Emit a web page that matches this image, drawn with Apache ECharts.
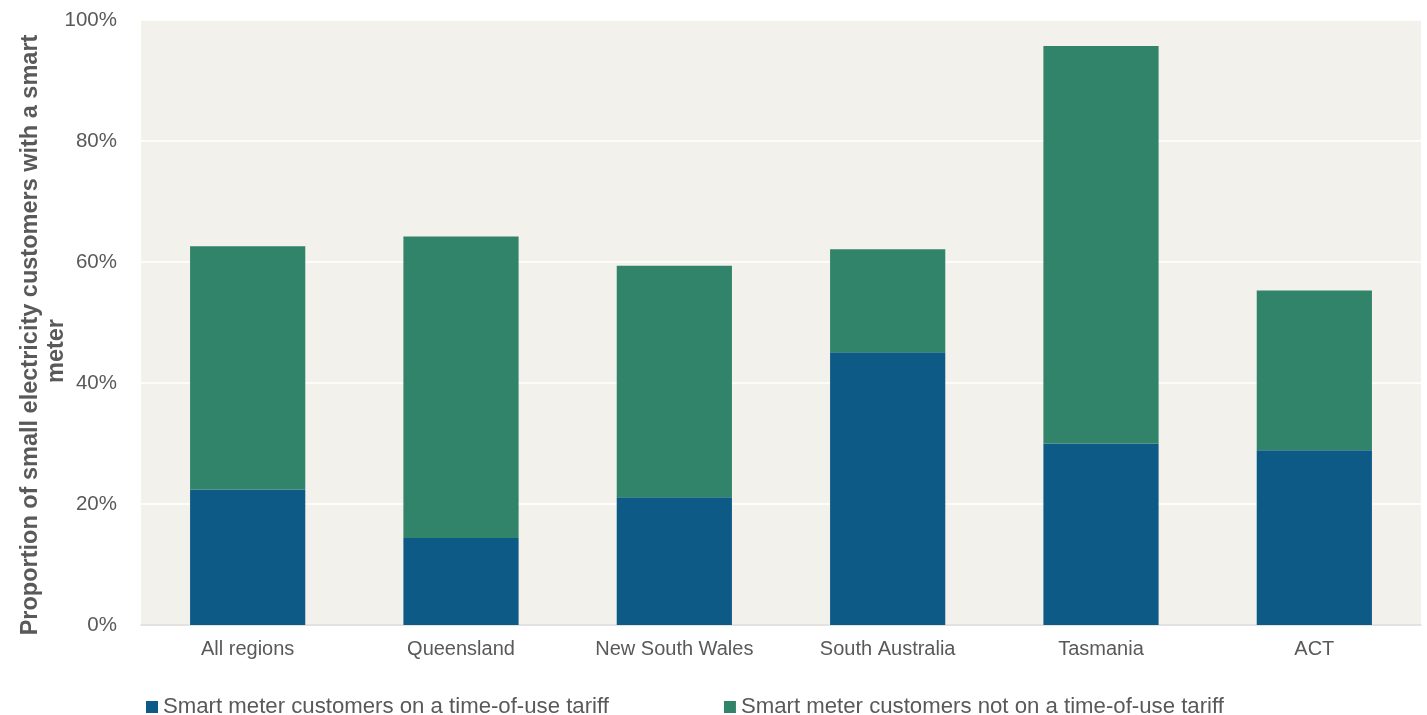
<!DOCTYPE html>
<html>
<head>
<meta charset="utf-8">
<script src="https://cdn.jsdelivr.net/npm/echarts@6/dist/echarts.min.js"></script>
<style>
  html, body { margin: 0; padding: 0; background: #ffffff; }
  #chart { width: 1427px; height: 715px; }
</style>
</head>
<body>
<div id="chart"></div>
<script>
// Smart meter uptake by region (% of small electricity customers)
const regions = ['All regions', 'Queensland', 'New South Wales', 'South Australia', 'Tasmania', 'ACT'];
const onTouTariff = [22.4, 14.4, 21.1, 45.1, 30.0, 28.9];
const notOnTouTariff = [40.2, 49.8, 38.3, 17.0, 65.7, 26.4];
const seriesNames = [
  'Smart meter customers on a time-of-use tariff',
  'Smart meter customers not on a time-of-use tariff'
];
const yAxisTitleLines = ['Proportion of small electricity customers with a smart', 'meter'];
const yTicks = { min: 0, max: 100, interval: 20 };

const textGrey = '#595959';
const fontFamily = '"Liberation Sans", Arial, sans-serif';

// rotated y-axis title, one text element per line
function titleLine(text, x, y) {
  return {
    type: 'text',
    x: x, y: y,
    rotation: Math.PI / 2,
    style: {
      text: text,
      fill: textGrey,
      font: 'bold 23.5px ' + fontFamily,
      align: 'center',
      verticalAlign: 'middle'
    }
  };
}

const chart = echarts.init(document.getElementById('chart'));
chart.setOption({
  animation: false,
  textStyle: { fontFamily: fontFamily },
  grid: {
    left: 141, right: 6, top: 20, bottom: 90,
    outerBoundsMode: 'none',
    containLabel: false,
    show: true, backgroundColor: '#F2F1EC', borderWidth: 0
  },
  graphic: [
    titleLine(yAxisTitleLines[0], 31, 335),
    titleLine(yAxisTitleLines[1], 57, 351)
  ],
  legend: {
    left: 141, top: 691,
    itemWidth: 12, itemHeight: 12, itemGap: 115,
    icon: 'rect',
    textStyle: { color: textGrey, fontSize: 22.2, fontFamily: fontFamily },
    data: seriesNames
  },
  xAxis: {
    type: 'category',
    data: regions,
    axisLine: { show: true, lineStyle: { color: '#d9d9d9', width: 1.5 } },
    axisTick: { show: false },
    axisLabel: { color: textGrey, fontSize: 20, margin: 14 }
  },
  yAxis: {
    type: 'value',
    min: yTicks.min, max: yTicks.max, interval: yTicks.interval,
    axisLabel: { formatter: '{value}%', color: textGrey, fontSize: 20.5, margin: 24 },
    axisLine: { show: false },
    axisTick: { show: false },
    splitLine: { lineStyle: { color: '#ffffff', width: 1.5 } }
  },
  series: [
    {
      name: seriesNames[0], type: 'bar', stack: 'meters',
      barWidth: '54%',
      itemStyle: { color: '#0E5A87' },
      data: onTouTariff
    },
    {
      name: seriesNames[1], type: 'bar', stack: 'meters',
      barWidth: '54%',
      itemStyle: { color: '#31846A' },
      data: notOnTouTariff
    }
  ]
});
</script>
</body>
</html>
